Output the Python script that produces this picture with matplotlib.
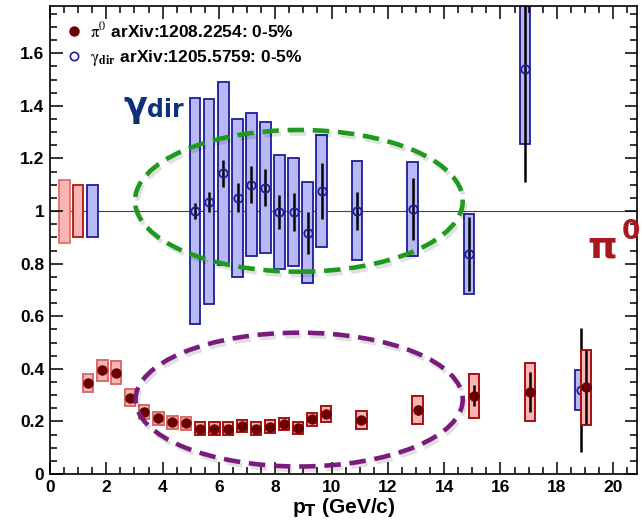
import matplotlib
matplotlib.use("Agg")
import matplotlib.pyplot as plt
import matplotlib.patheffects as pe
from matplotlib.patches import Ellipse
from matplotlib.lines import Line2D
from matplotlib.ticker import MultipleLocator

plt.rcParams['font.family'] = ['Liberation Sans', 'DejaVu Sans']
plt.rcParams['mathtext.fontset'] = 'stix'

# pi0 R_AA, 0-5% (arXiv:1208.2254)
pi0_pt = [1.34, 1.86, 2.34, 2.84, 3.34, 3.85, 4.35, 4.84, 5.33, 5.84, 6.33, 6.83,
          7.32, 7.82, 8.31, 8.81, 9.31, 9.80, 11.06, 13.06, 15.05, 17.04, 19.03]
pi0_raa = [0.345, 0.395, 0.385, 0.29, 0.235, 0.212, 0.197, 0.193, 0.172, 0.172, 0.172, 0.182,
           0.172, 0.18, 0.19, 0.175, 0.208, 0.228, 0.205, 0.243, 0.297, 0.312, 0.33]
pi0_sys = [0.034, 0.04, 0.044, 0.033, 0.026, 0.025, 0.024, 0.024, 0.024, 0.024, 0.024, 0.024,
           0.024, 0.024, 0.024, 0.024, 0.025, 0.032, 0.034, 0.053, 0.084, 0.112, 0.143]
pi0_stat = [0.01, 0.01, 0.01, 0.01, 0.01, 0.01, 0.01, 0.01, 0.01, 0.01, 0.01, 0.01,
            0.01, 0.01, 0.01, 0.01, 0.01, 0.01, 0.012, 0.02, 0.04, 0.076, 0.14]

# direct photon R_AA, 0-5% (arXiv:1205.5759)
g_pt = [5.16, 5.65, 6.16, 6.66, 7.15, 7.65, 8.15, 8.65, 9.15, 9.65, 10.9, 12.88, 14.88, 16.87, 18.85]
g_raa = [1.0, 1.035, 1.143, 1.051, 1.101, 1.089, 0.996, 0.996, 0.918, 1.076, 1.001, 1.008, 0.837, 1.539, 0.32]
g_sys = [0.43, 0.39, 0.347, 0.30, 0.271, 0.249, 0.217, 0.206, 0.192, 0.213, 0.188, 0.18, 0.151, 0.284, 0.076]
g_stat = [0.03, 0.038, 0.05, 0.055, 0.07, 0.07, 0.066, 0.073, 0.08, 0.105, 0.073, 0.117, 0.14, 0.43, 0.236]

# global normalisation uncertainties at R_AA = 1
norm_x = [0.51, 0.995, 1.51]
norm_err = [0.12, 0.10, 0.10]

# highlighted regions (center x, center y, width, height)
green_ell = (8.84, 1.039, 11.64, 0.539)
purple_ell = (8.85, 0.283, 11.62, 0.509)

box_w = 0.37

fig = plt.figure(figsize=(6.42, 5.29), dpi=100)
ax = fig.add_axes([50/642, 55/529, 587/642, 468/529])

ax.axhline(1.0, color='#444444', lw=0.8, zorder=0.5)

# normalisation boxes
ax.bar(norm_x, [2*e for e in norm_err], bottom=[1-e for e in norm_err], width=box_w,
       color=['#f9b4b4', '#f9b4b4', '#b8b8f4'], edgecolor=['#e07070', '#b01515', '#1c1c9c'],
       linewidth=1.3, zorder=1)

# gamma_dir
ax.bar(g_pt, [2*s for s in g_sys], bottom=[v-s for v, s in zip(g_raa, g_sys)], width=box_w,
       color='#b8b8f4', edgecolor='#1c1c9c', linewidth=1.3, zorder=1)
ax.errorbar(g_pt, g_raa, yerr=g_stat, fmt='none', ecolor='black', elinewidth=1.8, zorder=2)
ax.plot(g_pt, g_raa, 'o', ls='none', ms=6, mfc='none', mec='#1c1c9c', mew=1.3, zorder=3)

# pi0
pi0_edge = ['#d86a6a' if p < 5 else '#a80f0f' for p in pi0_pt]
ax.bar(pi0_pt, [2*s for s in pi0_sys], bottom=[v-s for v, s in zip(pi0_raa, pi0_sys)], width=box_w,
       color='#f9b4b4', edgecolor=pi0_edge, linewidth=1.4, zorder=4)
ax.errorbar(pi0_pt, pi0_raa, yerr=pi0_stat, fmt='none', ecolor='black', elinewidth=1.8, zorder=5)
ax.plot(pi0_pt, pi0_raa, 'o', ls='none', ms=6.5, color='#6a0000', zorder=6)

# dashed ellipses with a soft shadow
for (cx, cy, w, h), col in [(green_ell, '#1e9a1e'), (purple_ell, '#7a1c7e')]:
    e = Ellipse((cx, cy), w, h, fill=False, edgecolor=col, lw=3.3, zorder=7)
    e.set_linestyle((0, (3.6, 1.9)))
    e.set_path_effects([pe.SimpleLineShadow(offset=(1.5, -2.5), shadow_color='k', alpha=0.12),
                        pe.Normal()])
    ax.add_patch(e)

ax.set_xlim(0, 20.85)
ax.set_ylim(0, 1.78)
ax.xaxis.set_major_locator(MultipleLocator(2))
ax.xaxis.set_minor_locator(MultipleLocator(0.5))
ax.yaxis.set_major_locator(MultipleLocator(0.2))
ax.yaxis.set_minor_locator(MultipleLocator(0.05))
ax.yaxis.set_major_formatter(plt.FuncFormatter(lambda v, p: '%g' % round(v, 2)))
ax.tick_params(which='both', direction='in', top=True, right=True, width=1.1)
ax.tick_params(which='major', length=9, labelsize=12.5, pad=4)
ax.tick_params(which='minor', length=5)
for lab in ax.get_xticklabels() + ax.get_yticklabels():
    lab.set_fontweight('bold')
for sp in ax.spines.values():
    sp.set_linewidth(1.2)

ax.set_xlabel(r'p$_{\mathbf{T}}$ (GeV/c)', fontsize=15, fontweight='bold', labelpad=1,
              math_fontfamily='dejavusans')

# legend
handles = [Line2D([], [], marker='o', ls='none', ms=6.5, color='#6a0000'),
           Line2D([], [], marker='o', ls='none', ms=6, mfc='none', mec='#1c1c9c', mew=1.2)]
labels = [r'$\mathrm{\pi}^0$ arXiv:1208.2254: 0-5%',
          r'$\mathrm{\gamma}_{\mathbf{dir}}$ arXiv:1205.5759: 0-5%']
ax.legend(handles, labels, loc='upper left', bbox_to_anchor=(0.005, 0.995), frameon=False,
          prop={'weight': 'bold', 'size': 12.5}, handlelength=1.0, handletextpad=0.45,
          labelspacing=0.45, borderaxespad=0.3)

# labels
ax.text(2.6, 1.357, 'γ', fontsize=25, fontweight='bold', color='#10307a', family='DejaVu Sans',
        ha='left', va='baseline')
ax.text(3.45, 1.357, 'dir', fontsize=17, fontweight='bold', color='#10307a', family='DejaVu Sans',
        ha='left', va='baseline')
ax.text(19.1, 0.825, 'π', fontsize=27, fontweight='bold', color='#a8181c', family='DejaVu Sans',
        ha='left', va='baseline', clip_on=False)
ax.text(20.3, 0.895, '0', fontsize=19, fontweight='bold', color='#a8181c', family='DejaVu Sans',
        ha='left', va='baseline', clip_on=False)

fig.savefig('out.png', dpi=100)
